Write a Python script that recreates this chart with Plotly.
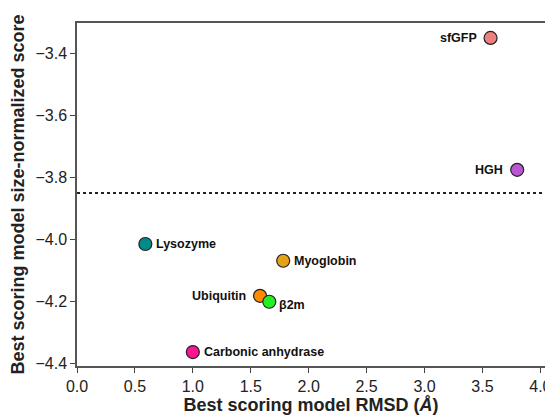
import plotly.graph_objects as go

proteins = ["sfGFP", "HGH", "Lysozyme", "Myoglobin", "Ubiquitin", "β2m", "Carbonic anhydrase"]
rmsd = [3.57, 3.80, 0.59, 1.78, 1.58, 1.66, 1.00]
score = [-3.35, -3.775, -4.014, -4.068, -4.181, -4.20, -4.362]
colors = ["#F08080", "#BA55D3", "#008B8B", "#E3A21A", "#FF8C00", "#22F022", "#FF1493"]
label_side = ["left", "left", "right", "right", "left", "right", "right"]
threshold = -3.85

fig = go.Figure()
fig.add_trace(go.Scatter(
    x=rmsd, y=score, mode="markers",
    marker=dict(size=13, color=colors, line=dict(color="#222222", width=1.2)),
    showlegend=False, hoverinfo="text", text=proteins, cliponaxis=False,
))
fig.add_shape(type="line", xref="paper", x0=0, x1=1, yref="y", y0=threshold, y1=threshold,
              line=dict(color="#222222", width=2, dash="dot"))

for name, x, y, side in zip(proteins, rmsd, score, label_side):
    yshift = -3 if name == "β2m" else 0
    if side == "left":
        xshift = -12
    else:
        xshift = 8 if name == "β2m" else 9
    fig.add_annotation(
        x=x, y=y, text="<b>%s</b>" % name, showarrow=False,
        xanchor="right" if side == "left" else "left",
        xshift=xshift, yshift=yshift,
        font=dict(family="Liberation Sans, Arial, sans-serif", size=12.5, color="#111111"),
    )

axis_common = dict(
    showgrid=False, zeroline=False, showline=True, linecolor="#555555", linewidth=1.5,
    mirror=True, ticks="outside", ticklen=5, tickwidth=1.3, tickcolor="#444444",
    automargin=False,
    tickfont=dict(family="Liberation Sans, Arial, sans-serif", size=16, color="#222222"),
)
fig.update_xaxes(
    range=[0, 4.04], tickvals=[0, 0.5, 1.0, 1.5, 2.0, 2.5, 3.0, 3.5, 4.0], tickformat=".1f",
    title=dict(text="<b>Best scoring model RMSD (<i>Å</i>)</b>", standoff=4,
               font=dict(family="Liberation Sans, Arial, sans-serif", size=18, color="#222222")),
    **axis_common,
)
fig.update_yaxes(
    range=[-4.407, -3.302], tickvals=[-4.4, -4.2, -4.0, -3.8, -3.6, -3.4], tickformat=".1f",
    title=dict(text="<b>Best scoring model size-normalized score</b>", standoff=8,
               font=dict(family="Liberation Sans, Arial, sans-serif", size=18, color="#222222")),
    **axis_common,
)
# page body has an 8px default margin, so the figure is offset by 8px
fig.update_layout(
    width=545, height=410, margin=dict(l=69, r=8, t=15, b=52),
    plot_bgcolor="white", paper_bgcolor="white",
    separators=".\u2212",
)
fig.write_html("out.html")
